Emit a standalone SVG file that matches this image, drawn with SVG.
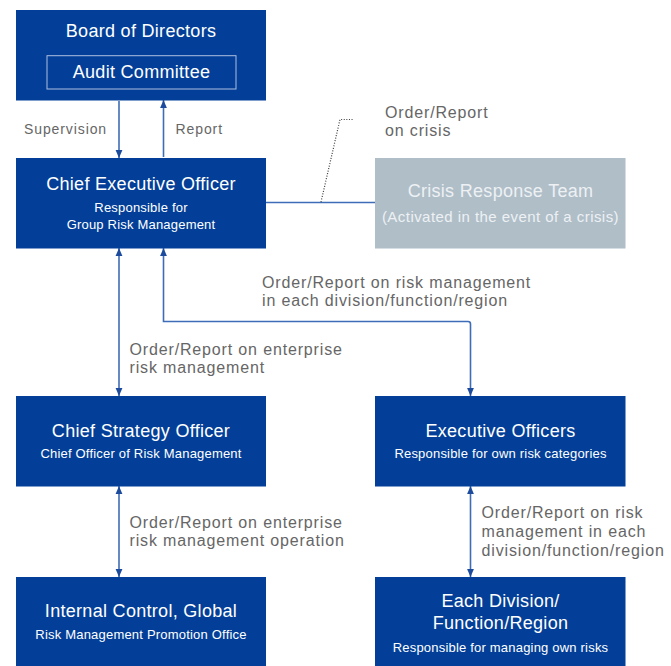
<svg xmlns="http://www.w3.org/2000/svg" width="671" height="666" viewBox="0 0 671 666">
<defs>
<style>
.box{fill:#033f98}
.crisis{fill:#b0bec8}
.t{font-family:"Liberation Sans",Arial,sans-serif;fill:#ffffff;text-anchor:middle;font-size:18px;letter-spacing:0.3px}
.s{font-family:"Liberation Sans",Arial,sans-serif;fill:#ffffff;text-anchor:middle;font-size:13px;letter-spacing:0.2px}
.ct{fill:#edf1f4}
.lab{font-family:"Liberation Sans",Arial,sans-serif;fill:#666666;font-size:16px;letter-spacing:0.85px}
.lab2{font-family:"Liberation Sans",Arial,sans-serif;fill:#666666;font-size:14px;letter-spacing:0.9px}
.ln{fill:none;stroke:#3f6cb6;stroke-width:1.6}
.dot{fill:none;stroke:#3a3a3a;stroke-width:1.2;stroke-dasharray:1 1.6}
</style>
<marker id="ah" viewBox="0 0 8 8" refX="8" refY="4" markerWidth="8" markerHeight="8" markerUnits="userSpaceOnUse" orient="auto-start-reverse">
<path d="M0,0.6 L8,4 L0,7.4 Z" fill="#1c4a9c"/>
</marker>
</defs>

<g id="connectors">
<line class="ln" x1="119" y1="101" x2="119" y2="158" marker-end="url(#ah)"/>
<line class="ln" x1="163.5" y1="157" x2="163.5" y2="100" marker-end="url(#ah)"/>
<line class="ln" x1="266" y1="202.5" x2="375" y2="202.5"/>
<polyline class="dot" points="321,202 340,119.5 353,119.5"/>
<line class="ln" x1="119" y1="248" x2="119" y2="396" marker-start="url(#ah)" marker-end="url(#ah)"/>
<path class="ln" d="M163.5,248 L163.5,321.5 L468,321.5 Q470.5,321.5 470.5,324 L470.5,396" marker-start="url(#ah)" marker-end="url(#ah)"/>
<line class="ln" x1="119" y1="486" x2="119" y2="577" marker-start="url(#ah)" marker-end="url(#ah)"/>
<line class="ln" x1="470.5" y1="486" x2="470.5" y2="577" marker-start="url(#ah)" marker-end="url(#ah)"/>
</g>

<g id="board">
<rect class="box" x="16" y="10" width="250" height="90.5"/>
<text class="t" x="141" y="36.7">Board of Directors</text>
<rect x="47" y="55.7" width="189" height="33.3" fill="none" stroke="#aebfdf" stroke-width="1"/>
<text class="t" x="141.5" y="78.3">Audit Committee</text>
</g>

<g id="ceo">
<rect class="box" x="16" y="158" width="250" height="90.5"/>
<text class="t" x="141" y="190">Chief Executive Officer</text>
<text class="s" x="141" y="212.3">Responsible for</text>
<text class="s" x="141" y="229">Group Risk Management</text>
</g>

<g id="crisis-team">
<rect class="crisis" x="375" y="158" width="250.5" height="90.5"/>
<text class="t ct" x="500.5" y="196.7">Crisis Response Team</text>
<text class="t ct" x="500.5" y="221.7" style="font-size:15px;letter-spacing:0.45px">(Activated in the event of a crisis)</text>
</g>

<g id="cso">
<rect class="box" x="16" y="396" width="250" height="90.5"/>
<text class="t" x="141" y="436.7">Chief Strategy Officer</text>
<text class="s" x="141" y="458.3">Chief Officer of Risk Management</text>
</g>

<g id="exec-officers">
<rect class="box" x="375" y="396" width="250.5" height="90.5"/>
<text class="t" x="500.5" y="436.7">Executive Officers</text>
<text class="s" x="500.5" y="458.3">Responsible for own risk categories</text>
</g>

<g id="internal-control">
<rect class="box" x="16" y="577" width="250" height="89"/>
<text class="t" x="141" y="616.7">Internal Control, Global</text>
<text class="s" x="141" y="639.3">Risk Management Promotion Office</text>
</g>

<g id="each-division">
<rect class="box" x="375" y="577" width="250.5" height="89"/>
<text class="t" x="500.5" y="606.7">Each Division/</text>
<text class="t" x="500.5" y="629.3">Function/Region</text>
<text class="s" x="500.5" y="651.7">Responsible for managing own risks</text>
</g>

<g id="labels">
<text class="lab2" x="24" y="134">Supervision</text>
<text class="lab2" x="175.5" y="134">Report</text>
<text class="lab" x="385" y="118">Order/Report</text>
<text class="lab" x="385" y="136">on crisis</text>
<text class="lab" x="262" y="288">Order/Report on risk management</text>
<text class="lab" x="262" y="305.7">in each division/function/region</text>
<text class="lab" x="129.5" y="355">Order/Report on enterprise</text>
<text class="lab" x="129.5" y="372.7">risk management</text>
<text class="lab" x="129.5" y="528.3">Order/Report on enterprise</text>
<text class="lab" x="129.5" y="546">risk management operation</text>
<text class="lab" x="481.5" y="518.3">Order/Report on risk</text>
<text class="lab" x="481.5" y="536.7">management in each</text>
<text class="lab" x="481.5" y="555.7">division/function/region</text>
</g>
</svg>
